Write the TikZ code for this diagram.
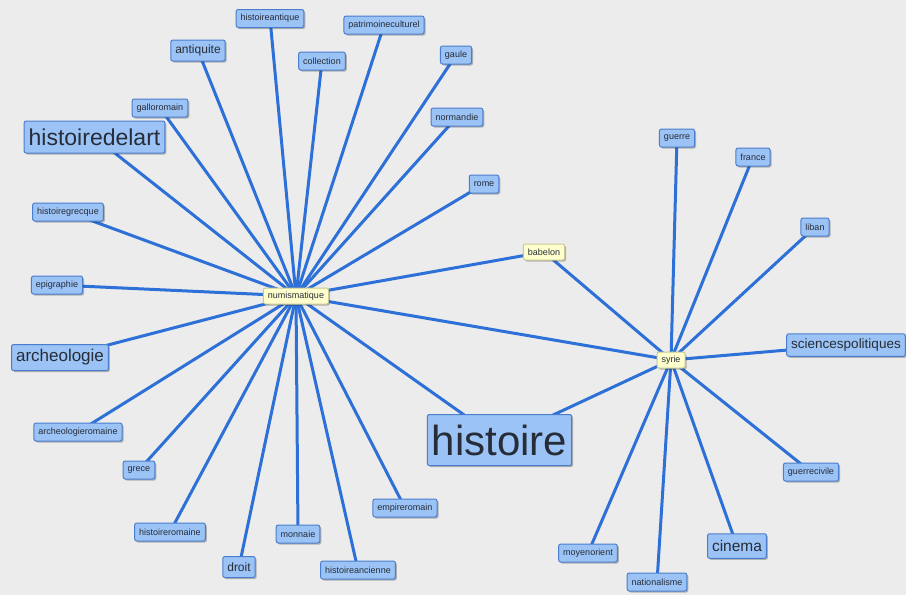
\documentclass[tikz,border=0pt]{standalone}
\usepackage{fontspec}
\setmainfont{Liberation Sans}
\usetikzlibrary{shadows}
\definecolor{bgcol}{RGB}{236,236,236}
\definecolor{tagfill}{RGB}{155,195,245}
\definecolor{tagline}{RGB}{75,125,205}
\definecolor{hubfill}{RGB}{255,255,205}
\definecolor{hubline}{RGB}{200,200,150}
\definecolor{edgecol}{RGB}{45,112,215}
\definecolor{txtcol}{RGB}{38,44,56}
\pgfdeclarelayer{edges}
\pgfsetlayers{edges,main}
\tikzset{
  tag/.style={draw=tagline,fill=tagfill,rounded corners=2pt,line width=1pt,text=txtcol,inner xsep=4.5pt,inner ysep=0pt,minimum height=#1pt+9pt,font=\fontsize{#1}{#1}\selectfont,drop shadow={shadow xshift=1.5pt,shadow yshift=-1.5pt,opacity=0.25,fill=black}},
  tag/.default={9},
  hub/.style={tag=9,draw=hubline,fill=hubfill,minimum height=16pt},
  edge/.style={draw=edgecol,line width=3pt},
}

\begin{document}
\begin{tikzpicture}[x=1pt,y=-1pt]
 \begin{pgfonlayer}{edges}
  \fill[bgcol] (0,0) rectangle (906,595);
 \end{pgfonlayer}
 \useasboundingbox (0,0) rectangle (906,595);
 % hubs
 \node[hub] (numismatique) at (296,296) {numismatique};
 \node[hub] (babelon) at (544,252) {babelon};
 \node[hub] (syrie) at (671,360) {syrie};
 % tags round numismatique
 \node[tag] (histoireantique) at (270,18.5) {histoireantique};
 \node[tag=12] (antiquite) at (198,50.5) {antiquite};
 \node[tag] (collection) at (322,61) {collection};
 \node[tag] (patrimoineculturel) at (384,25) {patrimoineculturel};
 \node[tag] (gaule) at (456,55) {gaule};
 \node[tag] (galloromain) at (160,108) {galloromain};
 \node[tag=23] (histoiredelart) at (94.5,137) {histoiredelart};
 \node[tag] (normandie) at (457,117) {normandie};
 \node[tag] (rome) at (484,184) {rome};
 \node[tag] (histoiregrecque) at (68,212) {histoiregrecque};
 \node[tag] (epigraphie) at (57,285) {epigraphie};
 \node[tag=17] (archeologie) at (60,357.5) {archeologie};
 \node[tag] (archeologieromaine) at (78,432) {archeologieromaine};
 \node[tag] (grece) at (139,470) {grece};
 \node[tag] (histoireromaine) at (170,532) {histoireromaine};
 \node[tag=12] (droit) at (239,567) {droit};
 \node[tag] (monnaie) at (298,534) {monnaie};
 \node[tag] (histoireancienne) at (358,570) {histoireancienne};
 \node[tag] (empireromain) at (405,508) {empireromain};
 \node[tag=42] (histoire) at (499.5,440) {histoire};
 % tags round syrie
 \node[tag] (guerre) at (677,138) {guerre};
 \node[tag] (france) at (753,157) {france};
 \node[tag] (liban) at (815,227) {liban};
 \node[tag=13.5] (sciencespolitiques) at (846,345) {sciencespolitiques};
 \node[tag] (guerrecivile) at (811,472) {guerrecivile};
 \node[tag=15.5] (cinema) at (737,546) {cinema};
 \node[tag] (moyenorient) at (588,553) {moyenorient};
 \node[tag] (nationalisme) at (657,582) {nationalisme};
 % links
 \begin{pgfonlayer}{edges}
  \foreach \t in {histoireantique,antiquite,collection,patrimoineculturel,gaule,galloromain,histoiredelart,normandie,rome,histoiregrecque,epigraphie,archeologie,archeologieromaine,grece,histoireromaine,droit,monnaie,histoireancienne,empireromain,histoire,babelon,syrie}
   \draw[edge] (numismatique.center) -- (\t.center);
  \foreach \t in {babelon,guerre,france,liban,sciencespolitiques,guerrecivile,cinema,nationalisme,moyenorient,histoire}
   \draw[edge] (syrie.center) -- (\t.center);
 \end{pgfonlayer}
\end{tikzpicture}
\end{document}
